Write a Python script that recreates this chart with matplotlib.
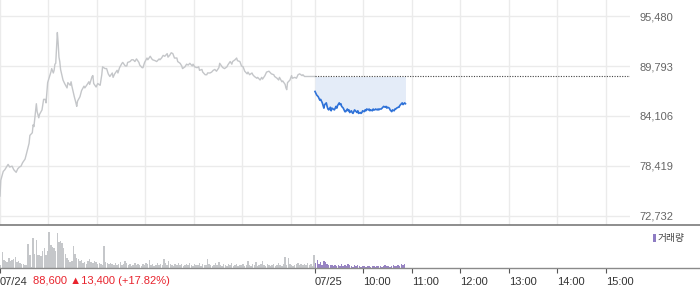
import matplotlib
matplotlib.use("Agg")
import matplotlib.pyplot as plt
from matplotlib.patches import Rectangle
from matplotlib.lines import Line2D

# ---------------- data ----------------
prev_close = 88600          # 07/24 close (reference line for 07/25)
change = 13400
change_pct = 17.82

# 07/24 session: minutes since 09:00, price
day1_minutes = [
    0, 1, 4, 6, 10, 12, 15, 17, 20, 22,
    24, 26, 28, 31, 33, 36, 37, 40, 41, 42,
    45, 46, 48, 49, 52, 54, 56, 57, 59, 62,
    63, 64, 66, 67, 68, 69, 71, 72, 73, 74,
    75, 78, 80, 83, 84, 87, 88, 89, 92, 94,
    95, 96, 99, 101, 104, 105, 108, 110, 111, 114,
    115, 116, 119, 121, 124, 126, 127, 130, 132, 134,
    136, 139, 140, 142, 145, 146, 148, 151, 152, 155,
    157, 158, 161, 163, 165, 167, 169, 172, 173, 176,
    177, 179, 182, 183, 186, 188, 189, 192, 194, 197,
    198, 200, 202, 204, 207, 208, 210, 212, 214, 216,
    219, 220, 223, 225, 226, 229, 231, 233, 235, 238,
    239, 241, 244, 246, 247, 250, 251, 254, 256, 257,
    260, 262, 264, 266, 268, 271, 272, 275, 276, 278,
    281, 282, 285, 287, 288, 291, 293, 294, 297, 299,
    301, 303, 306, 307, 309, 312, 313, 315, 318, 319,
    322, 324, 325, 328, 330, 333, 334, 336, 339, 340,
    343, 345, 346, 349, 350, 353, 354, 355, 356, 359,
    361, 362, 365, 367, 369, 371, 374, 375, 377, 381,
    390,
]
day1_prices = [
    75000, 76800, 77800, 78000, 78600, 78300, 78400, 78000, 77700, 78100,
    78300, 78400, 78800, 79200, 79900, 81000, 81900, 82200, 83100, 82900,
    85500, 84600, 83900, 84300, 84800, 86000, 86000, 85600, 87900, 88800,
    89100, 89500, 89000, 89300, 90000, 90100, 93600, 92400, 90800, 90300,
    89400, 88200, 87800, 87300, 87900, 87600, 88000, 87500, 86300, 85600,
    85200, 85800, 86300, 87000, 87500, 87300, 87700, 88000, 87700, 88600,
    88700, 87800, 87400, 87800, 87600, 88800, 89700, 89500, 89500, 88900,
    88600, 89000, 88500, 88900, 89300, 89000, 89600, 90100, 90200, 89800,
    89800, 90200, 90300, 90500, 90500, 90300, 90600, 90200, 89900, 89600,
    89600, 90200, 90700, 90500, 90900, 90600, 90500, 90400, 90300, 90600,
    90500, 90700, 91000, 90900, 91200, 90800, 91000, 91300, 91200, 90700,
    90700, 90300, 90100, 89800, 89500, 89700, 90000, 89900, 90100, 89800,
    90000, 89700, 89600, 89700, 89300, 89400, 89100, 88800, 88800, 89000,
    89000, 89100, 89300, 89400, 89200, 89600, 90100, 89700, 89600, 89500,
    89700, 89900, 90300, 90000, 90300, 90500, 90700, 90400, 90300, 89800,
    89700, 89200, 88900, 89100, 88800, 89000, 88800, 88600, 88400, 88500,
    88200, 88500, 88300, 88700, 89100, 89200, 89100, 88900, 88800, 88600,
    88400, 88200, 88500, 88000, 88100, 87700, 87300, 87100, 87900, 88200,
    88700, 88400, 88500, 88400, 88800, 88900, 88700, 88800, 88600, 88600,
    88600,
]

# 07/25 session (until ~10:52): minutes since 09:00, price
day2_minutes = [
    0, 1, 2, 4, 5, 6, 7, 9, 10, 11,
    12, 14, 15, 16, 17, 19, 20, 21, 24, 26,
    27, 28, 30, 31, 32, 33, 35, 36, 37, 38,
    40, 41, 42, 43, 45, 46, 47, 48, 49, 51,
    52, 53, 54, 56, 57, 58, 59, 61, 62, 63,
    64, 66, 67, 68, 69, 71, 72, 73, 74, 75,
    77, 78, 79, 80, 82, 83, 84, 85, 87, 88,
    89, 90, 92, 93, 94, 95, 96, 98, 99, 100,
    101, 103, 104, 105, 106, 108, 109, 110, 111, 112,
]
day2_prices = [
    86900, 86700, 86500, 86300, 86100, 85900, 86000, 85600, 85300, 85000,
    85400, 85600, 85200, 84900, 84800, 85100, 84700, 85000, 84800, 85200,
    85000, 85300, 85600, 85400, 85500, 85200, 85000, 84800, 84600, 84600,
    84900, 84700, 84800, 84500, 84700, 84500, 84400, 84600, 84800, 84600,
    84500, 84700, 84400, 84500, 84400, 84500, 84700, 84600, 84800, 84700,
    84900, 84800, 84900, 84700, 84800, 84700, 84900, 84800, 84800, 84900,
    84800, 84900, 84800, 84900, 84900, 85000, 85100, 85200, 85100, 85200,
    85000, 85100, 85000, 84800, 84700, 84600, 84800, 84700, 84900, 84900,
    85000, 85100, 85100, 85300, 85400, 85600, 85400, 85500, 85600, 85500,
]

# volume, 2-minute bins (thousand shares)
day1_volume = [
    3, 16, 8, 7, 6, 10, 7, 8, 9, 11,
    6, 7, 5, 4, 4, 3, 3, 24, 13, 1,
    30, 14, 28, 13, 13, 12, 17, 20, 13, 17,
    36, 23, 21, 20, 17, 35, 26, 27, 25, 20,
    14, 10, 8, 6, 7, 22, 14, 10, 9, 7,
    8, 5, 6, 4, 7, 9, 6, 5, 7, 6,
    4, 5, 4, 3, 22, 6, 5, 4, 5,
    4, 3, 5, 3, 4, 6, 3, 4, 7, 5,
    3, 4, 2, 3, 5, 3, 4, 3, 2, 4,
    3, 5, 4, 8, 3, 4, 2, 3, 5, 3,
    4, 3, 9, 5, 3, 7, 4, 3, 2, 4,
    3, 5, 3, 4, 2, 3, 4, 3, 5, 3,
    2, 4, 3, 3, 5, 2, 4, 3, 3, 9,
    4, 3, 2, 3, 5, 3, 6, 3, 2, 4,
    3, 2, 4, 3, 5, 2, 3, 4, 2, 3,
    3, 4, 2, 3, 7, 3, 2, 4, 3, 6,
    2, 3, 4, 7, 3, 2, 4, 3, 2, 3,
    4, 2, 3, 5, 3, 2, 4, 11, 3, 10,
    4, 3, 2, 3, 4, 5, 3, 4, 3, 4,
    3, 5, 3, 4, 2, 13,
]
day2_volume = [
    5, 8, 4, 6, 3, 7, 6, 4, 3, 3,
    3, 2, 3, 2, 3, 2, 4, 2, 3, 2,
    4, 3, 2, 1, 3, 2, 3, 2, 1, 2,
    2, 1, 2, 2, 1, 2, 2, 1, 2, 2,
    2, 1, 2, 3, 2, 2, 1, 2, 3, 2,
    2, 3, 2, 4, 3, 4,
]
bin_minutes = 2
session_minutes = 390

y_ticks = [72732, 78419, 84106, 89793, 95480]
x_tick_labels = ["07/24", "07/25", "10:00", "11:00", "12:00", "13:00", "14:00", "15:00"]

# ---------------- figure ----------------
W, H = 700, 289
fig = plt.figure(figsize=(W / 100, H / 100), dpi=100)
fig.patch.set_facecolor("white")
FONT = ["Liberation Sans", "DejaVu Sans"]


def fx(px):
    return px / W


def fy(py):
    return 1 - py / H


ax = fig.add_axes([0, fy(225), fx(630), 225 / H])
axv = fig.add_axes([0, fy(268), fx(630), (268 - 226) / H])

total = 2 * session_minutes
d2x = [session_minutes + m for m in day2_minutes]

# price panel
ax.plot(day1_minutes, day1_prices, color="#c4c6c9", lw=1.0, zorder=3)
ax.fill_between(d2x, day2_prices, prev_close, color="#e4ecf8", lw=0, zorder=2)
ax.plot(d2x, day2_prices, color="#2f72d8", lw=1.2, zorder=4)
ax.plot([session_minutes, total], [prev_close, prev_close], color="#444444",
        lw=0.8, ls=(0, (1, 1.3)), zorder=3)

ax.set_xlim(0, total)
ax.set_ylim(71708, 97300)
grid_x = list(range(0, 361, 60)) + list(range(session_minutes, total, 60))
ax.set_xticks(grid_x)
ax.tick_params(axis="x", length=0, labelbottom=False)
ax.set_yticks(y_ticks)
ax.set_yticklabels([f"{v:,}" for v in y_ticks], family=FONT)
ax.yaxis.tick_right()
ax.tick_params(axis="y", length=0, pad=6.5, labelsize=8, labelcolor="#666666")
ax.grid(True, color="#ebebeb", lw=1)
ax.set_axisbelow(True)
for s in ax.spines.values():
    s.set_visible(False)

# volume panel
x1 = [i * bin_minutes for i in range(len(day1_volume))]
x2 = [session_minutes + i * bin_minutes for i in range(len(day2_volume))]
axv.bar(x1, day1_volume, width=1.85, align="edge", color="#c5c7ca", lw=0)
axv.bar(x2, day2_volume, width=1.85, align="edge", color="#9884c4", lw=0)
axv.set_xlim(0, total)
axv.set_ylim(0, 42)
axv.set_yticks([])
vt = [0, session_minutes] + list(range(session_minutes + 60, total, 60))
axv.set_xticks(vt)
axv.set_xticklabels(x_tick_labels, family=FONT)
for lbl in axv.get_xticklabels():
    lbl.set_horizontalalignment("left")
axv.tick_params(axis="x", length=3.5, width=0.8, color="#555555", pad=3,
                labelsize=8, labelcolor="#333333")
for s in axv.spines.values():
    s.set_visible(False)

# separator lines across full width
fig.add_artist(Line2D([0, 1], [fy(225), fy(225)], color="#7a7a7a", lw=1.2,
                      transform=fig.transFigure))
fig.add_artist(Line2D([0, 1], [fy(268), fy(268)], color="#8a8a8a", lw=1.0,
                      transform=fig.transFigure))

# close info text
fig.text(fx(33), fy(281.5), f"{prev_close:,} \u25b2{change:,} (+{change_pct:.2f}%)",
         color="#e8232d", fontsize=8, family=FONT, ha="left", va="center")

# volume legend
fig.add_artist(Rectangle((fx(653), fy(241.5)), fx(3), 8 / H, color="#8e7cc3",
                         transform=fig.transFigure, lw=0))
fig.text(fx(658), fy(238), "거래량", fontsize=7, color="#444444",
         family=["Noto Sans CJK KR", "DejaVu Sans"], ha="left", va="center")

fig.savefig("out.png", dpi=100)
